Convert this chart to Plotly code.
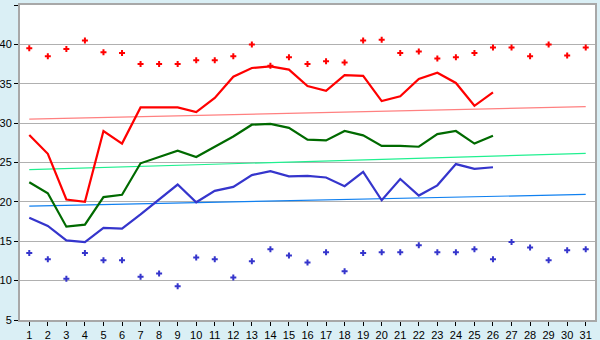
import plotly.graph_objects as go

days = list(range(1, 32))
days_obs = list(range(1, 27))

max_line = [28.5, 26.1, 20.3, 20.0, 29.0, 27.4, 32.0, 32.0, 32.0, 31.4,
            33.2, 35.9, 37.0, 37.2, 36.8, 34.7, 34.1, 36.1, 36.0, 32.8,
            33.4, 35.6, 36.4, 35.1, 32.2, 33.9]
mean_line = [22.5, 21.1, 16.85, 17.1, 20.6, 20.9, 24.9, 25.7, 26.5, 25.7,
             27.0, 28.3, 29.8, 29.9, 29.4, 27.9, 27.8, 29.0, 28.45, 27.1,
             27.1, 27.0, 28.6, 29.0, 27.4, 28.4]
min_line = [18.0, 16.95, 15.1, 14.9, 16.7, 16.6, 18.4, 20.3, 22.2, 19.95,
            21.4, 21.9, 23.4, 23.9, 23.25, 23.3, 23.1, 22.0, 23.8, 20.2,
            22.9, 20.8, 22.1, 24.8, 24.2, 24.4]
max_pts = [39.5, 38.5, 39.4, 40.5, 39.0, 38.9, 37.5, 37.5, 37.5, 38.0,
           38.0, 38.5, 40.0, 37.3, 38.35, 37.5, 37.85, 37.7, 40.5, 40.6,
           38.9, 39.1, 38.2, 38.35, 38.9, 39.6, 39.6, 38.5, 40.0, 38.6, 39.6]
min_pts = [13.5, 12.7, 10.25, 13.5, 12.6, 12.6, 10.5, 10.9, 9.3, 12.95,
           12.7, 10.4, 12.45, 14.0, 13.2, 12.3, 13.6, 11.2, 13.5, 13.6,
           13.6, 14.5, 13.6, 13.6, 14.0, 12.7, 14.9, 14.2, 12.6, 13.85, 14.0]
max_trend = [30.5, 32.1]
mean_trend = [24.1, 26.15]
min_trend = [19.45, 20.95]
trend_x = [1, 31]
y_ticks = [5, 10, 15, 20, 25, 30, 35, 40, 45]

fig = go.Figure()
fig.add_trace(go.Scatter(x=trend_x, y=max_trend, mode="lines",
                         line=dict(color="#ff8080", width=1.2)))
fig.add_trace(go.Scatter(x=trend_x, y=mean_trend, mode="lines",
                         line=dict(color="#20f090", width=1.2)))
fig.add_trace(go.Scatter(x=trend_x, y=min_trend, mode="lines",
                         line=dict(color="#1080f0", width=1.2)))
fig.add_trace(go.Scatter(x=days_obs, y=max_line, mode="lines",
                         line=dict(color="#ff0000", width=2.2)))
fig.add_trace(go.Scatter(x=days_obs, y=mean_line, mode="lines",
                         line=dict(color="#006a00", width=2.2)))
fig.add_trace(go.Scatter(x=days_obs, y=min_line, mode="lines",
                         line=dict(color="#3535cc", width=2.2)))
fig.add_trace(go.Scatter(x=days, y=max_pts, mode="markers",
                         marker=dict(symbol="cross", size=5, color="#ff0000",
                                     line=dict(width=0))))
fig.add_trace(go.Scatter(x=days, y=min_pts, mode="markers",
                         marker=dict(symbol="cross", size=5, color="#3535cc",
                                     line=dict(width=0))))

fig.update_layout(
    width=600, height=340,
    margin=dict(l=20, r=5, t=5, b=20, autoexpand=False),
    paper_bgcolor="#daeff5",
    plot_bgcolor="#ffffff",
    showlegend=False,
    font=dict(family="Liberation Sans", size=11, color="#000000"),
)
fig.update_xaxes(
    range=[0.5, 31.5], tickvals=days, ticktext=[str(d) for d in days],
    showgrid=False, zeroline=False, showline=True, linecolor="#a8a8a8",
    linewidth=2, mirror=True, ticks="outside", ticklen=4, tickcolor="#000000",
    tickwidth=1, automargin=False, ticklabelstandoff=0,
)
fig.update_yaxes(
    range=[5, 45], tickvals=y_ticks, showgrid=True, gridcolor="#b0b0b0",
    gridwidth=1, zeroline=False, showline=True, linecolor="#a8a8a8",
    linewidth=2, mirror=True, ticks="outside", ticklen=4, tickcolor="#000000",
    tickwidth=1, automargin=False, ticklabelstandoff=0,
)
fig.write_html("out.html")
